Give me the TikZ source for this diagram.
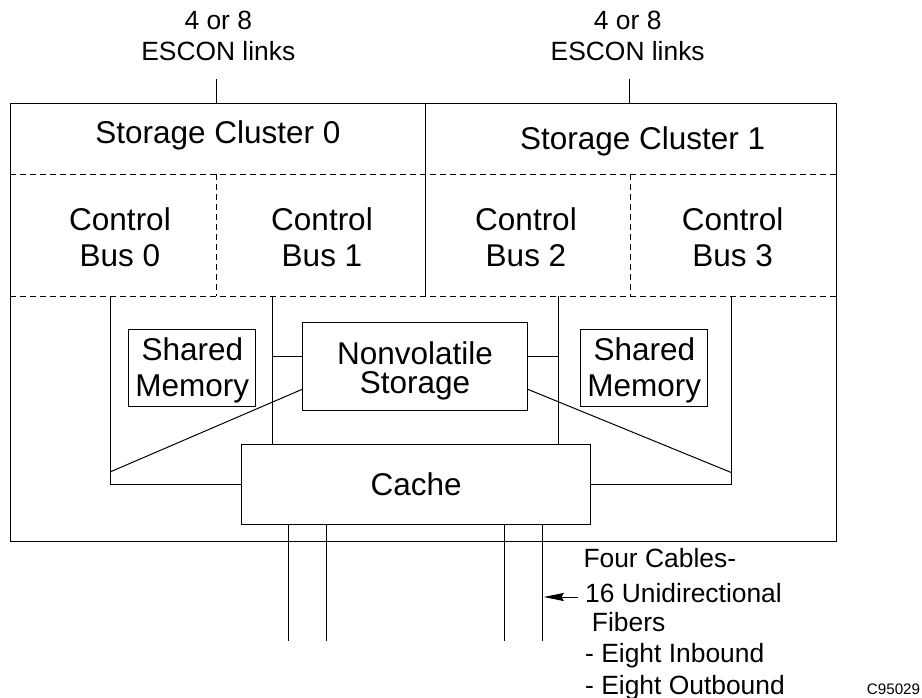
\documentclass[tikz,border=0pt]{standalone}
\usepackage{fontspec}
\setmainfont{Liberation Sans}
\usetikzlibrary{arrows.meta}

\tikzset{
  wire/.style={line width=1pt},
  sepline/.style={line width=0.9pt, dash pattern=on 6pt off 4pt},
  big/.style={font=\fontsize{31.5}{36.7}\selectfont},
  mid/.style={font=\fontsize{26.4}{30.7}\selectfont},
  txt/.style={anchor=base, inner sep=0pt},
  ltxt/.style={anchor=base west, inner sep=0pt, mid},
  unitbox/.style={draw, line width=1pt, inner sep=0pt, align=center, big},
}

\begin{document}
\begin{tikzpicture}[x=1pt, y=-1pt]
\useasboundingbox (0,0) rectangle (922,698);

% ESCON link labels
\node[txt, mid] (e0a) at (218.3,30) {4 or 8};
\node[txt, mid] (e0b) at (218.3,60.7) {ESCON links};
\node[txt, mid] (e1a) at (627.7,30) {4 or 8};
\node[txt, mid] (e1b) at (627.7,60.7) {ESCON links};
\coordinate (l0top) at (216.7,79);
\coordinate (l0bot) at (216.7,104);
\coordinate (l1top) at (629.5,79);
\coordinate (l1bot) at (629.5,104);
\draw[wire] (l0top) -- (l0bot);
\draw[wire] (l1top) -- (l1bot);

% Enclosure and cluster split
\draw[wire] (10,104) rectangle (836,541);
\draw[wire] (425.7,104) -- (425.7,296);
\draw[sepline] (10,174) -- (836,174);
\draw[sepline] (10,296) -- (836,296);
\draw[sepline] (216.5,174) -- (216.5,296);
\draw[sepline] (630,174) -- (630,296);

% Cluster and bus labels
\node[txt, big] (sc0) at (218,144) {Storage Cluster 0};
\node[txt, big] (sc1) at (642.7,150) {Storage Cluster 1};
\node[txt, big] (cb0a) at (120,230) {Control};
\node[txt, big] (cb0b) at (120,266.7) {Bus 0};
\node[txt, big] (cb1a) at (322,230) {Control};
\node[txt, big] (cb1b) at (322,266.7) {Bus 1};
\node[txt, big] (cb2a) at (526,230) {Control};
\node[txt, big] (cb2b) at (526,266.7) {Bus 2};
\node[txt, big] (cb3a) at (732.7,230) {Control};
\node[txt, big] (cb3b) at (732.7,266.7) {Bus 3};

% Storage units (the leading struts set where the text sits in its box)
\node[unitbox, minimum width=126.7pt, minimum height=76.7pt] (sm0) at (192.3,367.7) {\rule{0pt}{28pt}Shared\\Memory};
\node[unitbox, minimum width=126.7pt, minimum height=76.7pt] (sm1) at (644.3,367.7) {\rule{0pt}{28pt}Shared\\Memory};
\node[unitbox, minimum width=224.6pt, minimum height=88pt, font=\fontsize{31.5}{28.3}\selectfont] (nvs) at (415,366.7) {\rule{0pt}{31pt}Nonvolatile\\Storage};
\node[unitbox, minimum width=349pt, minimum height=80.5pt] (cache) at (416.2,484.25) {Cache};

% Bus junctions
\coordinate (b0) at (110.7,296);
\coordinate (b1) at (272.7,296);
\coordinate (b2) at (558.3,296);
\coordinate (b3) at (731.7,296);
\coordinate (d0) at (110.7,471.7);
\coordinate (d3) at (731.7,472.7);

% Bus wiring to cache and nonvolatile storage
\draw[wire] (cache.west) -| (b0);
\draw[wire] (cache.east) -| (b3);
\draw[wire] (b1) -- (b1 |- cache.north);
\draw[wire] (b2) -- (b2 |- cache.north);
\draw[wire] (b1 |- 0,356.7) -- (nvs.west |- 0,356.7);
\draw[wire] (b2 |- 0,356.7) -- (nvs.east |- 0,356.7);
\draw[wire] (nvs.west |- 0,389.3) -- (d0);
\draw[wire] (nvs.east |- 0,389.3) -- (d3);

% Fiber cables leaving the cache
\foreach \fx/\nm in {288/f1, 326.7/f2, 504/f3, 542.7/f4} {
  \coordinate (\nm top) at (\fx,524.5);
  \coordinate (\nm bot) at (\fx,641);
  \draw[wire] (\nm top) -- (\nm bot);
}

% Cable annotation
\coordinate (arrfrom) at (578,597);
\coordinate (arrto) at (543.7,597);
\draw[wire, -{Stealth[length=20pt, width=8pt, inset=2pt]}] (arrfrom) -- (arrto);
\node[ltxt] (n1) at (583.3,567.5) {Four Cables-};
\node[ltxt] (n2) at (585,602) {16 Unidirectional};
\node[ltxt] (n3) at (591.7,631) {Fibers};
\node[ltxt] (n4) at (585,662.5) {- Eight Inbound};
\node[ltxt] (n5) at (585,694) {- Eight Outbound};

\node[anchor=base west, inner sep=0pt, font=\fontsize{15.2}{18}\selectfont] (fig) at (866.7,694) {C95029};
\end{tikzpicture}
\end{document}
